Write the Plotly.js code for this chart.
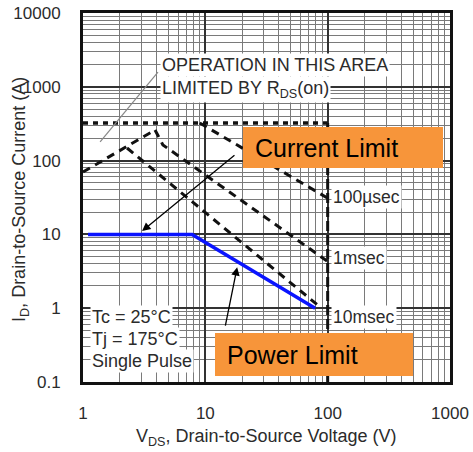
<!DOCTYPE html>
<html>
<head>
<meta charset="utf-8">
<script src="https://cdn.plot.ly/plotly-3.0.1.min.js"></script>
<style>
html,body{margin:0;padding:0;background:#fff;}
#chart{width:473px;height:452px;}
</style>
</head>
<body>
<div id="chart"></div>
<script>
// ---- data ----
const xTickVals = [1, 10, 100, 1000];
const xTickText = ['1', '10', '100', '1000'];
const yTickVals = [0.1, 1, 10, 100, 1000, 10000];
const yTickText = ['0.1', '1', '10', '100', '1000', '10000'];

const vCurrentLimit = [1, 100];
const iCurrentLimit = [323, 323];
const vVerticalLimit = [100, 100];
const iVerticalLimit = [323, 0.1];
const vRdsOn = [1, 3.88];
const iRdsOn = [70, 260];
const v100us = [9.0, 100];
const i100us = [323, 31];
const v1ms = [3.88, 4.5, 100];
const i1ms = [260, 163, 4.3];
const v10ms = [2.29, 83];
const i10ms = [148, 1.1];
const vPowerLimit = [1.1, 7.8, 79];
const iPowerLimit = [10, 10, 1.0];
const vRdsPointer = [1.38, 4.1];
const iRdsPointer = [179, 1585];

const pulseLabels = ['100µsec', '1msec', '10msec'];
const conditionLabels = ['Tc = 25°C', 'Tj = 175°C', 'Single Pulse'];

const L = Math.log10;
const FONT = 'Liberation Sans, Arial, sans-serif';
const TXT = '#2b2b2b';

const dashSOA = '8px,6px';
const traces = [
  {x: vCurrentLimit, y: iCurrentLimit, mode: 'lines', line: {color: '#111', width: 3.5, dash: '5px,5px'}},
  {x: vVerticalLimit, y: iVerticalLimit, mode: 'lines', line: {color: '#111', width: 3, dash: '10px,4px'}},
  {x: vRdsOn, y: iRdsOn, mode: 'lines', line: {color: '#111', width: 3, dash: dashSOA}},
  {x: v100us, y: i100us, mode: 'lines', line: {color: '#111', width: 3, dash: dashSOA}},
  {x: v1ms, y: i1ms, mode: 'lines', line: {color: '#111', width: 3, dash: dashSOA}},
  {x: v10ms, y: i10ms, mode: 'lines', line: {color: '#111', width: 3, dash: dashSOA}},
  {x: vRdsPointer, y: iRdsPointer, mode: 'lines', line: {color: '#888', width: 1.2}},
  {x: vPowerLimit, y: iPowerLimit, mode: 'lines', line: {color: '#0a14ff', width: 3.5}}
];

const px = p => (p - 83) / 367;
const py = p => (382 - p) / 369;

const annotations = [];
// RDS(on) text
annotations.push({xref: 'paper', yref: 'paper', x: px(160), y: py(65), xanchor: 'left', yanchor: 'middle',
  text: 'OPERATION IN THIS AREA', showarrow: false, bgcolor: '#fff', borderpad: 1,
  font: {family: FONT, size: 18, color: TXT}});
annotations.push({xref: 'paper', yref: 'paper', x: px(160), y: py(89), xanchor: 'left', yanchor: 'middle',
  text: 'LIMITED BY R<sub>DS</sub>(on)', showarrow: false, bgcolor: '#fff', borderpad: 1,
  font: {family: FONT, size: 18, color: TXT}});
// pulse labels
const pulseY = [197, 258, 317];
pulseLabels.forEach((t, k) => annotations.push({xref: 'paper', yref: 'paper', x: px(331), y: py(pulseY[k]),
  xanchor: 'left', yanchor: 'middle', text: t, showarrow: false, bgcolor: '#fff', borderpad: 1,
  font: {family: FONT, size: 17.5, color: TXT}}));
// condition labels
const condY = [317, 339, 361];
conditionLabels.forEach((t, k) => annotations.push({xref: 'paper', yref: 'paper', x: px(90), y: py(condY[k]),
  xanchor: 'left', yanchor: 'middle', text: t, showarrow: false, bgcolor: '#fff', borderpad: 1,
  font: {family: FONT, size: 18, color: TXT}}));
// boxes text
annotations.push({xref: 'paper', yref: 'paper', x: px(253), y: py(148), xanchor: 'left', yanchor: 'middle',
  text: 'Current Limit', showarrow: false, font: {family: FONT, size: 25, color: '#000'}});
annotations.push({xref: 'paper', yref: 'paper', x: px(225), y: py(355), xanchor: 'left', yanchor: 'middle',
  text: 'Power Limit', showarrow: false, font: {family: FONT, size: 25, color: '#000'}});
// arrows
annotations.push({xref: 'x', yref: 'y', axref: 'x', ayref: 'y', x: L(3.04), y: L(11.1), ax: L(17.8), ay: L(123),
  text: '', showarrow: true, arrowhead: 2, arrowsize: 1.3, arrowwidth: 1.3, arrowcolor: '#000'});
annotations.push({xref: 'x', yref: 'y', axref: 'x', ayref: 'y', x: L(18.2), y: L(3.6), ax: L(14.5), ay: L(0.556),
  text: '', showarrow: true, arrowhead: 2, arrowsize: 1.3, arrowwidth: 1.3, arrowcolor: '#000'});
// axis titles
annotations.push({xref: 'paper', yref: 'paper', x: 0.5, y: py(437), xanchor: 'center', yanchor: 'middle',
  text: 'V<sub>DS</sub>, Drain-to-Source Voltage (V)', showarrow: false, font: {family: FONT, size: 18, color: TXT}});
annotations.push({xref: 'paper', yref: 'paper', x: px(20), y: py(200), xanchor: 'center', yanchor: 'middle', textangle: -90,
  text: 'I<sub>D</sub>, Drain-to-Source Current (A)', showarrow: false, font: {family: FONT, size: 18, color: TXT}});

const shapes = [
  {type: 'rect', xref: 'paper', yref: 'paper', x0: px(243), x1: px(443), y0: py(168), y1: py(127),
   fillcolor: '#f7953a', line: {width: 0}, layer: 'above'},
  {type: 'rect', xref: 'paper', yref: 'paper', x0: px(215), x1: px(413), y0: py(376), y1: py(333),
   fillcolor: '#f7953a', line: {width: 0}, layer: 'above'}
];

const axisCommon = {
  type: 'log', showline: true, mirror: true, linecolor: '#111', linewidth: 3,
  showgrid: true, gridcolor: '#333', gridwidth: 2, ticks: '', zeroline: false,
  tickmode: 'array', tickfont: {family: FONT, size: 17, color: TXT},
  minor: {dtick: 'D1', showgrid: true, gridcolor: '#7a7a7a', gridwidth: 1, ticks: ''}
};

const layout = {
  width: 473, height: 452,
  margin: {l: 83, r: 23, t: 13, b: 70},
  paper_bgcolor: '#fff', plot_bgcolor: '#fff',
  showlegend: false,
  xaxis: Object.assign({}, axisCommon, {range: [0, 3], tickvals: xTickVals, ticktext: xTickText, ticklabelstandoff: 14}),
  yaxis: Object.assign({}, axisCommon, {range: [-1, 4], tickvals: yTickVals, ticktext: yTickText, ticklabelstandoff: 16}),
  annotations: annotations,
  shapes: shapes
};

Plotly.newPlot('chart', traces, layout, {displayModeBar: false, staticPlot: true});
</script>
</body>
</html>
